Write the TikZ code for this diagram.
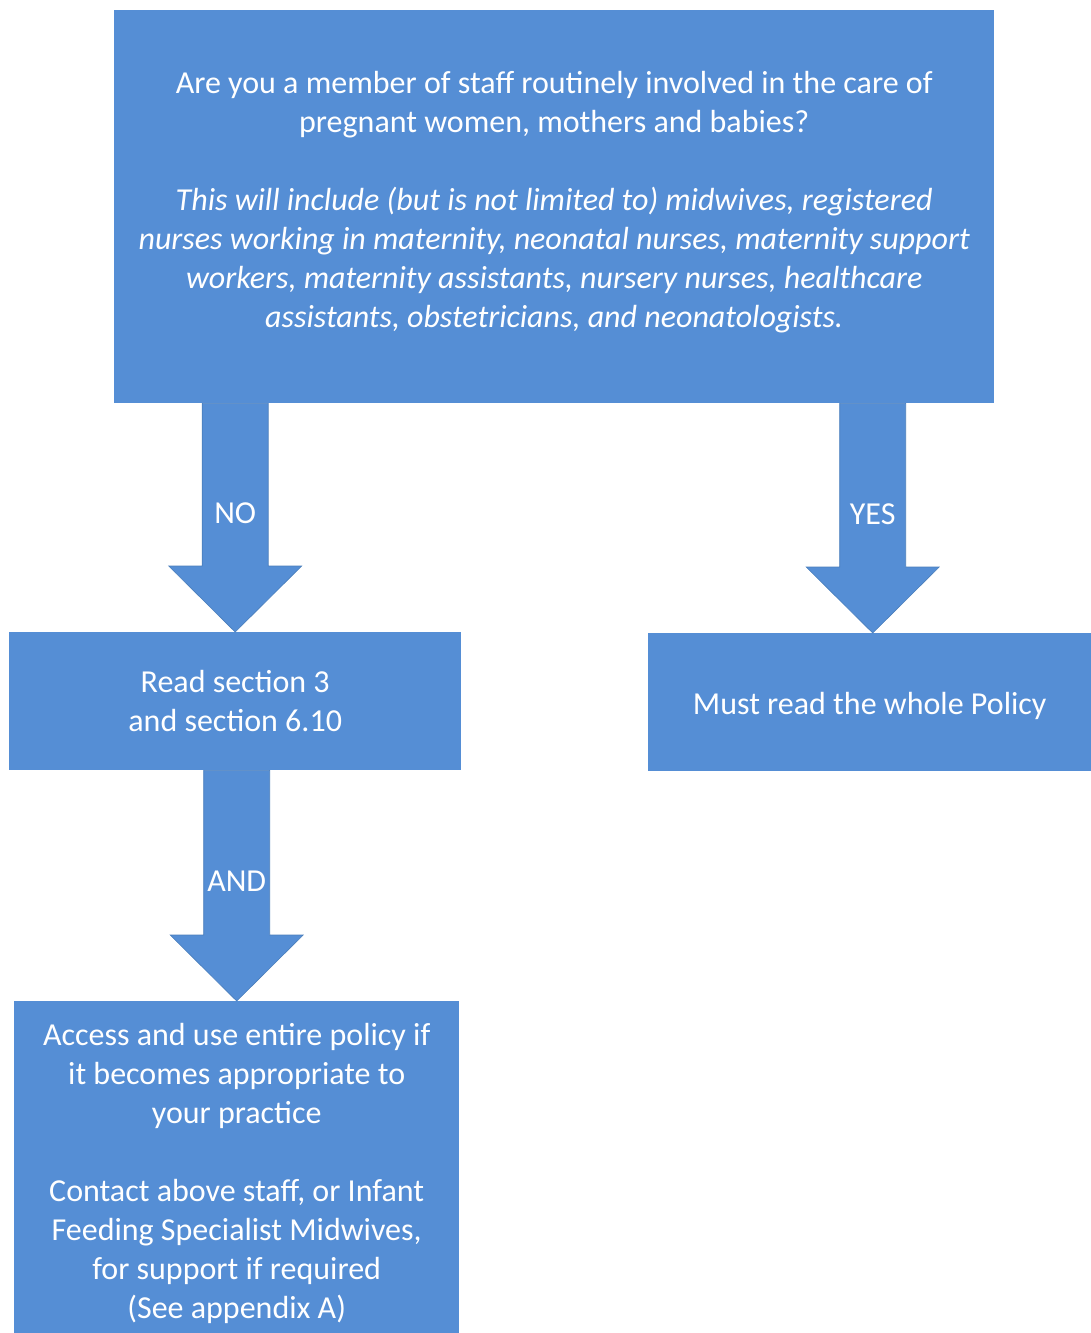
\documentclass[tikz,border=0pt]{standalone}
\usepackage{fontspec}
\setmainfont{Carlito}
\usetikzlibrary{calc}

\definecolor{flowblue}{RGB}{85,142,213}
\definecolor{flowedge}{RGB}{74,126,187}

\tikzset{
  flowbox/.style={fill=flowblue, text=white, align=center, inner sep=0pt,
    anchor=north west, font=\fontsize{32}{39}\selectfont},
  arrowlabel/.style={text=white, inner sep=1pt, font=\fontsize{32}{39}\selectfont}
}

% block arrow: from, to, label name, label text
\newcommand{\flowarrow}[4]{%
  \filldraw[fill=flowblue, draw=flowedge, line width=0.6pt] let \p1=(#1), \p2=(#2) in
    ({\x1-33pt},\y1) -- ({\x1+33pt},\y1) -- ({\x1+33pt},{\y2+66pt})
    -- ({\x1+66.5pt},{\y2+66pt}) -- (\x1,\y2) -- ({\x1-66.5pt},{\y2+66pt})
    -- ({\x1-33pt},{\y2+66pt}) -- cycle
    node[arrowlabel] (#3) at (\x1,{0.5*\y1+0.5*\y2+4pt}) {#4};
}

\begin{document}
\begin{tikzpicture}[x=1pt, y=-1pt]
  \useasboundingbox (0,0) rectangle (1091,1333);
  % --- boxes ----------------------------------------------------------
  \node[flowbox, minimum width=880pt, minimum height=393pt] (question) at (114,10)
    {Are you a member of staff routinely involved in the care of\\
     pregnant women, mothers and babies?\\[39pt]
     \itshape This will include (but is not limited to) midwives, registered\\
     \itshape nurses working in maternity, neonatal nurses, maternity support\\
     \itshape workers, maternity assistants, nursery nurses, healthcare\\
     \itshape assistants, obstetricians, and neonatologists.\\[-25pt]};
  \node[flowbox, minimum width=452pt, minimum height=138pt] (readsec) at (9,632)
    {Read section 3\\ and section 6.10};
  \node[flowbox, minimum width=443pt, minimum height=138pt] (wholepolicy) at (648,633)
    {\\[-9pt] Must read the whole Policy};
  \node[flowbox, minimum width=445pt, minimum height=332pt] (access) at (14,1001)
    {\\[-5pt] Access and use entire policy if\\ it becomes appropriate to\\ your practice\\[39pt]
     Contact above staff, or Infant\\ Feeding Specialist Midwives,\\
     for support if required\\ (See appendix A)};
  % --- arrows ---------------------------------------------------------
  \flowarrow{question.south -| readsec.north}{readsec.north}{no}{NO}
  \flowarrow{[xshift=3pt]question.south -| wholepolicy.north}{[xshift=3pt]wholepolicy.north}{yes}{YES}
  \flowarrow{readsec.south -| access.north}{access.north}{and}{AND}
\end{tikzpicture}
\end{document}
